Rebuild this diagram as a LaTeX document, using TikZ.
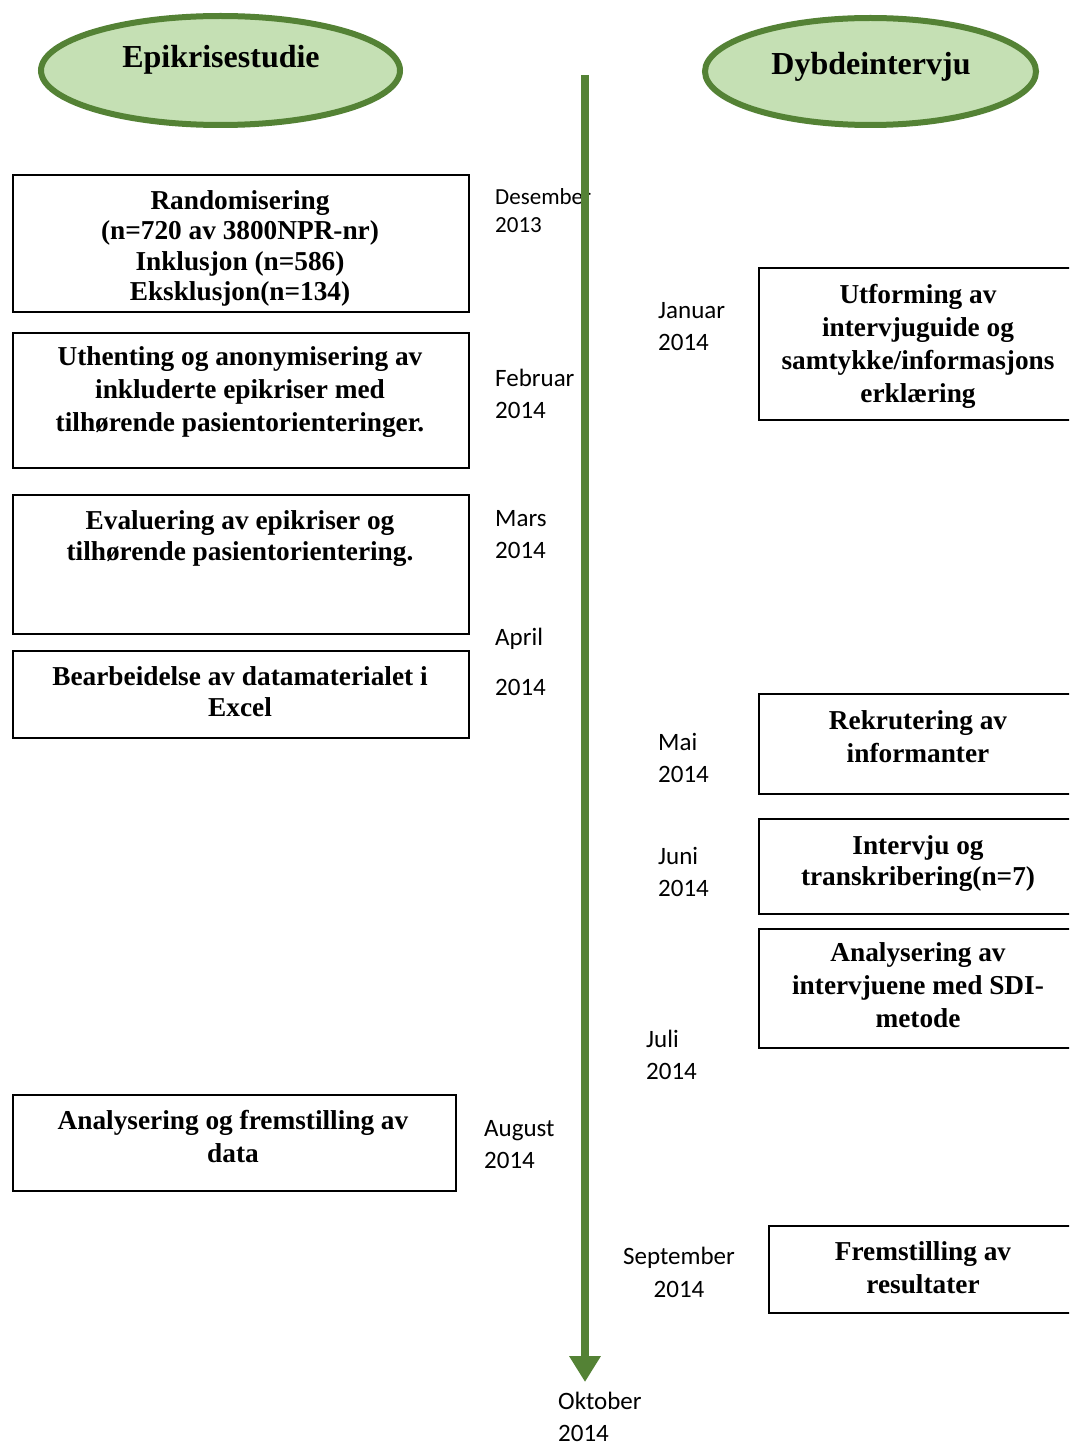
\documentclass[tikz,border=0pt]{standalone}
\usepackage{fontspec}
\setmainfont{Liberation Serif}
\newfontfamily\datefont{Carlito}
\usetikzlibrary{shapes.geometric,arrows.meta}
\definecolor{ellfill}{HTML}{C5E0B4}
\definecolor{ellline}{HTML}{548235}
\definecolor{arrowgreen}{HTML}{548235}
\begin{document}
\begin{tikzpicture}[x=1pt,y=-1pt,
  ell/.style={ellipse, draw=ellline, fill=ellfill, line width=6pt, inner sep=0pt},
  elltxt/.style={font=\bfseries\fontsize{32}{36}\selectfont, anchor=base, inner sep=0pt},
  box/.style={draw=black, line width=2pt, anchor=north west, inner sep=0pt},
  btxt/.style={font=\bfseries\fontsize{27.3}{33}\selectfont, align=center, anchor=base, inner sep=0pt},
  btxtb/.style={font=\bfseries\fontsize{27.3}{30.5}\selectfont, align=center, anchor=base, inner sep=0pt},
  btxtc/.style={font=\bfseries\fontsize{27.3}{31}\selectfont, align=center, anchor=base, inner sep=0pt},
  dtxt/.style={font=\datefont\fontsize{25}{32}\selectfont, align=left, anchor=base west, inner sep=0pt},
  dtxtc/.style={font=\datefont\fontsize{25}{33}\selectfont, align=center, anchor=base, inner sep=0pt},
  dsmall/.style={font=\datefont\fontsize{23}{28}\selectfont, align=left, anchor=base west, inner sep=0pt}
]
\clip (0,0) rectangle (1069,1447);
\fill[white] (0,0) rectangle (1069,1447);

% header ellipses
\node[ell, minimum width=359pt, minimum height=109pt] (e1) at (220.5,70.5) {};
\node[elltxt] (e1t) at (221,67.5) {Epikrisestudie};
\node[ell, minimum width=331pt, minimum height=107pt] (e2) at (870.5,71.5) {};
\node[elltxt] (e2t) at (871,74.5) {Dybdeintervju};

% left boxes (text nodes anchored at the baseline of their last line)
\node[box, minimum width=456pt, minimum height=137pt] (b1) at (12,174) {};
\node[btxtb] (b1t) at (240,300.5) {Randomisering\\(n=720 av 3800NPR-nr)\\Inklusjon (n=586)\\Eksklusjon(n=134)};
\node[box, minimum width=456pt, minimum height=135pt] (b2) at (12,332) {};
\node[btxt] (b2t) at (240,431) {Uthenting og anonymisering av\\inkluderte epikriser med\\tilhørende pasientorienteringer.};
\node[box, minimum width=456pt, minimum height=139pt] (b3) at (12,494) {};
\node[btxtc] (b3t) at (240,560) {Evaluering av epikriser og\\tilhørende pasientorientering.};
\node[box, minimum width=456pt, minimum height=87pt] (b4) at (12,650) {};
\node[btxtc] (b4t) at (240,716) {Bearbeidelse av datamaterialet i\\Excel};
\node[box, minimum width=443pt, minimum height=96pt] (b5) at (12,1094) {};
\node[btxt] (b5t) at (233,1162) {Analysering og fremstilling av\\data};

% right boxes (cut by the right edge)
\node[box, minimum width=340pt, minimum height=152pt] (r1) at (758,267) {};
\node[btxt] (r1t) at (918,402) {Utforming av\\intervjuguide og\\samtykke/informasjons\\erklæring};
\node[box, minimum width=340pt, minimum height=100pt] (r2) at (758,693) {};
\node[btxt] (r2t) at (918,762) {Rekrutering av\\informanter};
\node[box, minimum width=340pt, minimum height=95pt] (r3) at (758,818) {};
\node[btxtc] (r3t) at (918,885) {Intervju og\\transkribering(n=7)};
\node[box, minimum width=340pt, minimum height=119pt] (r4) at (758,928) {};
\node[btxt] (r4t) at (918,1027) {Analysering av\\intervjuene med SDI-\\metode};
\node[box, minimum width=330pt, minimum height=87pt] (r5) at (768,1225) {};
\node[btxt] (r5t) at (923,1293) {Fremstilling av\\resultater};

% dates
\node[dsmall] (d1) at (495,233) {Desember\\2013};
\node[dtxt] (d2) at (658,350) {Januar\\2014};
\node[dtxt] (d3) at (495,418) {Februar\\2014};
\node[dtxt] (d4) at (495,558) {Mars\\2014};
\node[dtxt] (d5) at (495,695) {April\\[18pt]2014};
\node[dtxt] (d6) at (658,782) {Mai\\2014};
\node[dtxt] (d7) at (658,896) {Juni\\2014};
\node[dtxt] (d8) at (646,1079) {Juli\\2014};
\node[dtxt] (d9) at (484,1168) {August\\2014};
\node[dtxtc] (d10) at (679,1297) {September\\2014};
\node[dtxt] (d11) at (558,1441) {Oktober\\2014};

% time line
\coordinate (ts) at (585,75);
\coordinate (te) at (585,1382);
\draw[arrowgreen, line width=8pt, -{Triangle[width=30pt,length=26pt]}] (ts) -- (te);
\end{tikzpicture}
\end{document}
